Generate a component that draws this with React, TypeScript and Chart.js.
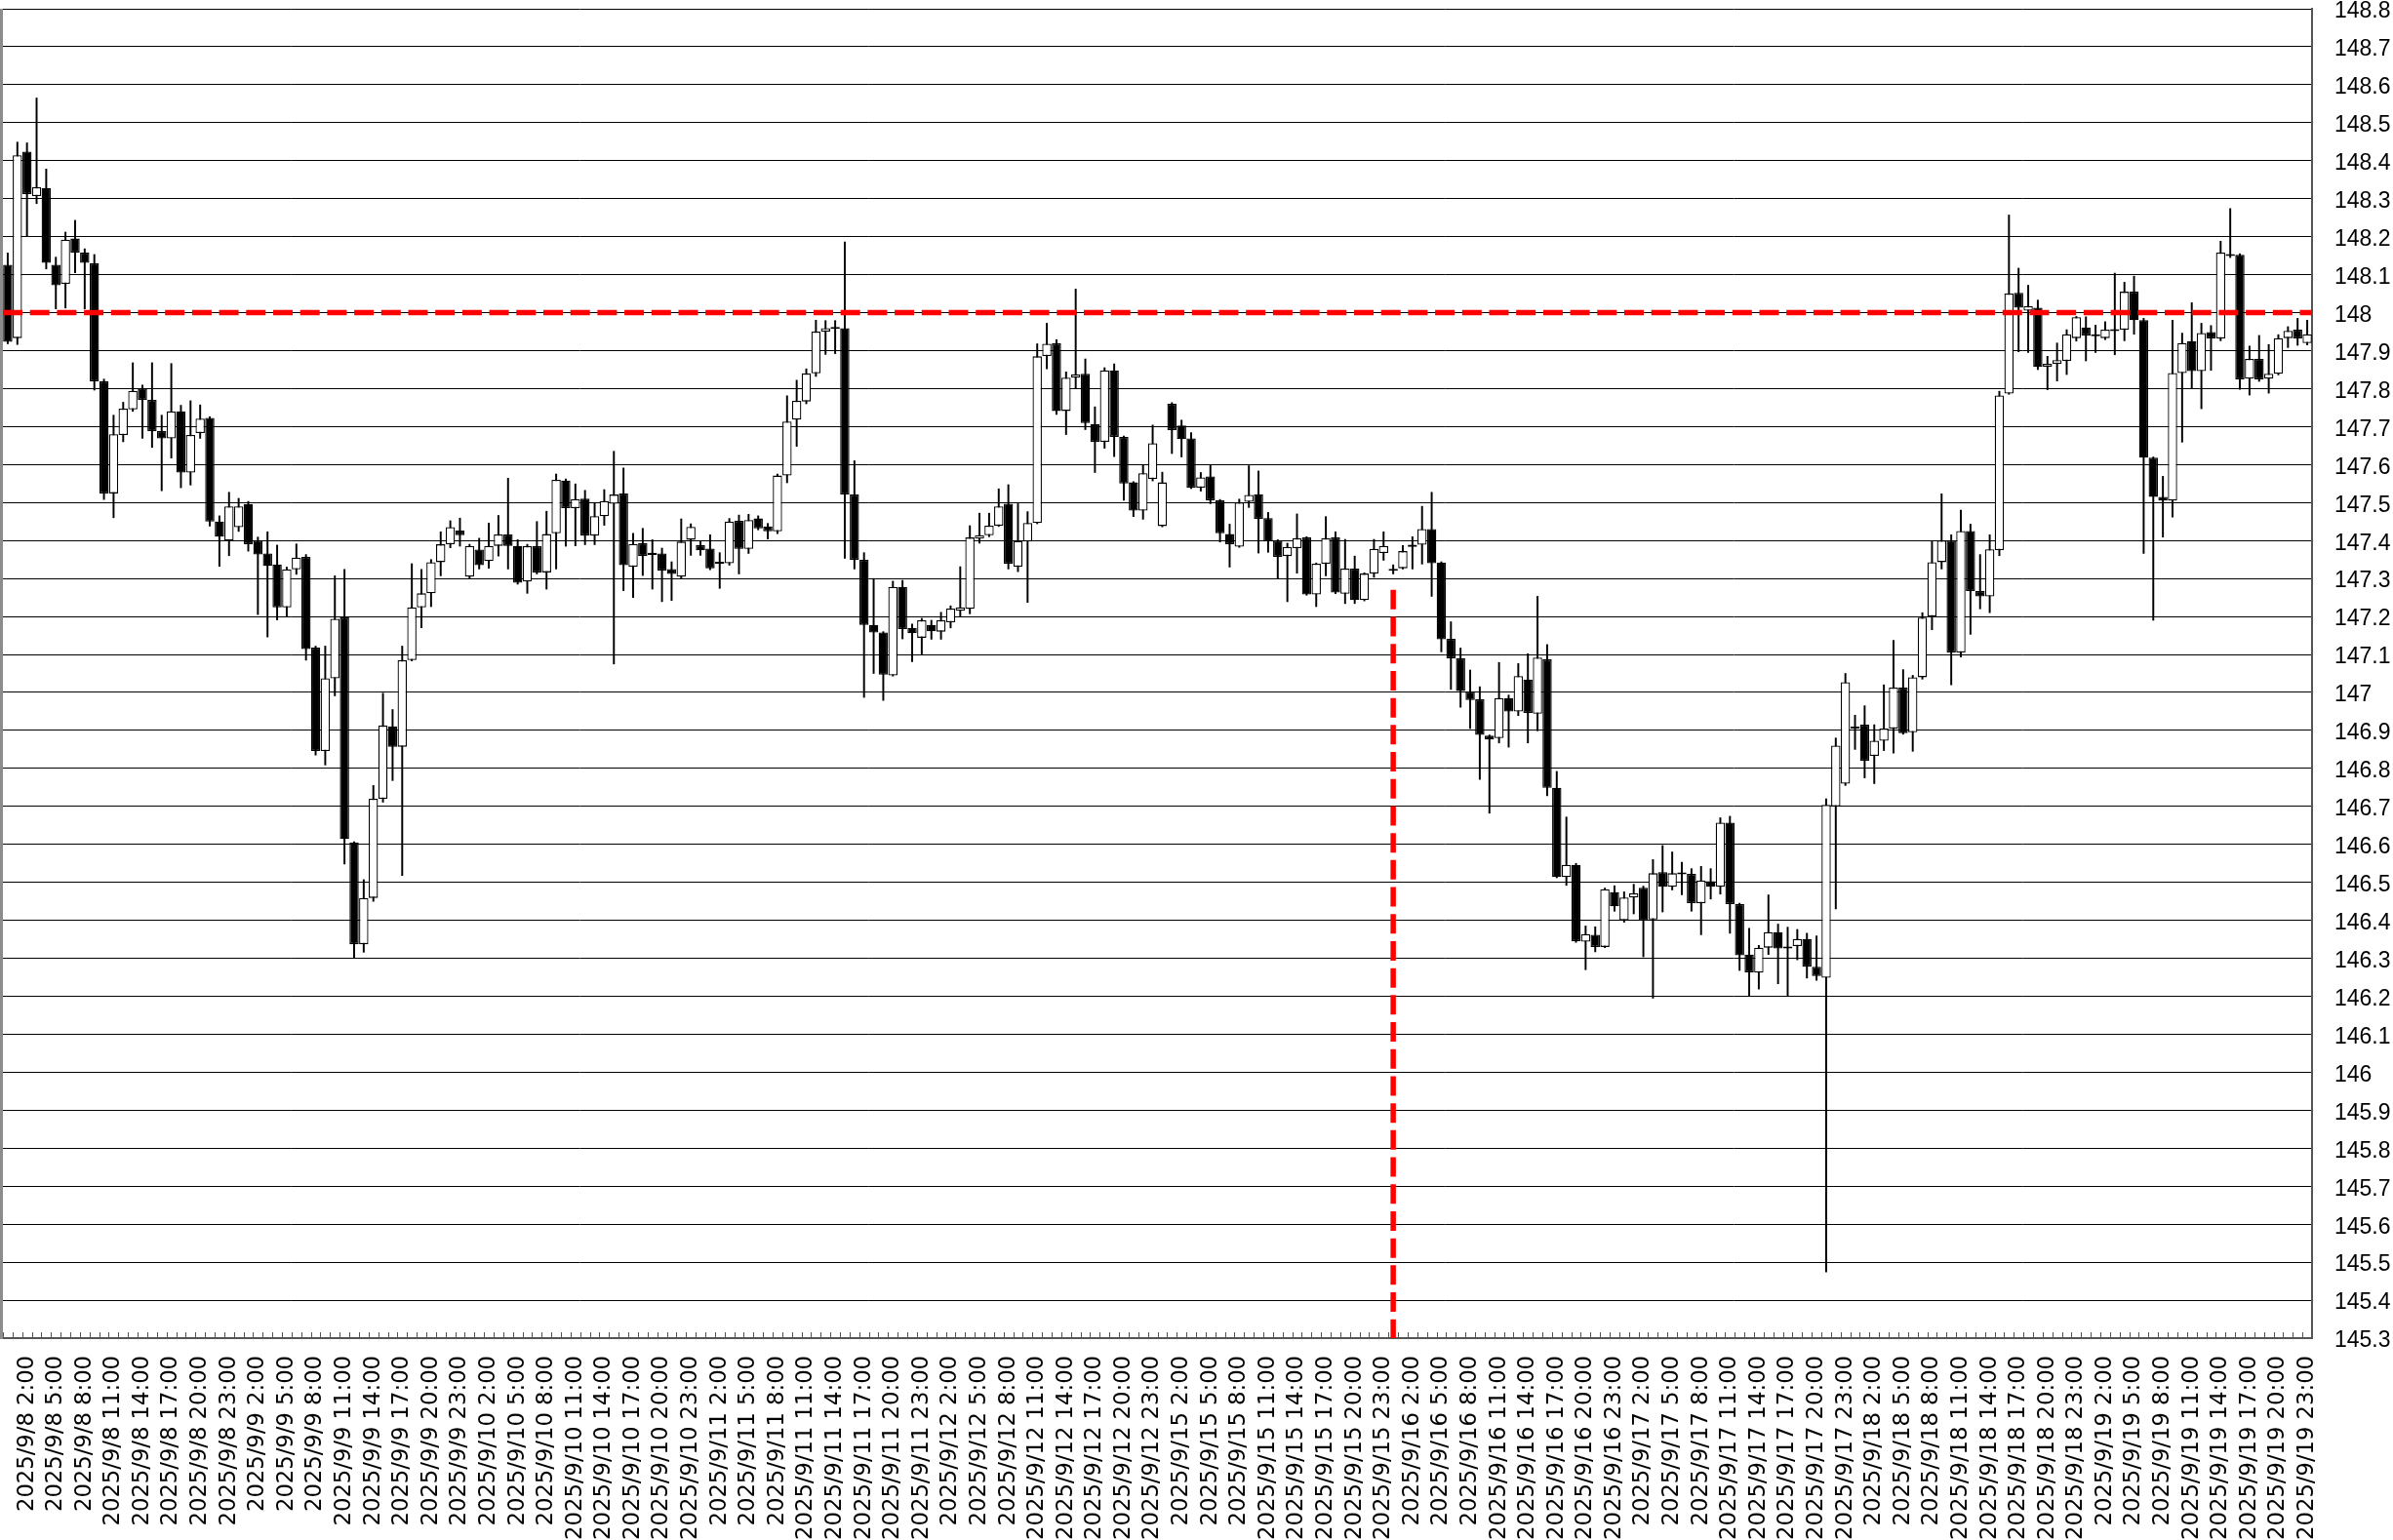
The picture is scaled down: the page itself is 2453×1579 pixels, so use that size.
import React, { useEffect, useRef } from 'react';
import { Chart, registerables } from 'chart.js';

Chart.register(...registerables);

// ---- categories (hourly candles, weekend removed) ----
const DAYS = ['9/8', '9/9', '9/10', '9/11', '9/12', '9/15', '9/16', '9/17', '9/18', '9/19'];
const HOURS = [0, 1, 2, 3, 4, 5, 6, 7, 8, 9, 10, 11, 12, 13, 14, 15, 16, 17, 18, 19, 20, 21, 22, 23];
const LABEL_HOURS = [2, 5, 8, 11, 14, 17, 20, 23];
const CATEGORIES = DAYS.flatMap((d) => HOURS.map((h) => `2025/${d} ${h}:00`));
const LABEL_INDEXES = CATEGORIES.map((_, i) => i).filter((i) => LABEL_HOURS.includes(HOURS[i % 24]));

// ---- price axis ticks ----
const Y_TICKS = [
  145.3, 145.4, 145.5, 145.6, 145.7, 145.8, 145.9, 146.0, 146.1, 146.2, 146.3, 146.4,
  146.5, 146.6, 146.7, 146.8, 146.9, 147.0, 147.1, 147.2, 147.3, 147.4, 147.5, 147.6,
  147.7, 147.8, 147.9, 148.0, 148.1, 148.2, 148.3, 148.4, 148.5, 148.6, 148.7, 148.8,
];
const Y_MIN = 145.3;
const Y_MAX = 148.8;

// ---- reference lines ----
const RESISTANCE = 148.0;
const MARKER_INDEX = 144;
const MARKER_TOP = 147.27;

// ---- OHLC ----
const OPEN = [
  148.126, 147.933, 148.424, 148.307, 148.328, 148.126, 148.076, 148.195, 148.158, 148.130, 147.819, 147.524, 147.678, 147.745, 147.800, 147.770, 147.688, 147.669, 147.740, 147.579, 147.683, 147.723, 147.450, 147.400,
  147.435, 147.496, 147.400, 147.366, 147.337, 147.224, 147.324, 147.357, 147.118, 146.846, 147.037, 147.198, 146.605, 146.337, 146.459, 146.720, 146.911, 146.857, 147.085, 147.224, 147.261, 147.343, 147.390, 147.426,
  147.305, 147.376, 147.346, 147.386, 147.416, 147.386, 147.292, 147.385, 147.316, 147.419, 147.558, 147.485, 147.510, 147.413, 147.464, 147.497, 147.524, 147.331, 147.393, 147.362, 147.366, 147.325, 147.305, 147.402,
  147.388, 147.379, 147.341, 147.340, 147.452, 147.378, 147.458, 147.437, 147.424, 147.571, 147.718, 147.766, 147.840, 147.950, 147.957, 147.959, 147.521, 147.349, 147.178, 147.158, 147.045, 147.278, 147.170, 147.144,
  147.178, 147.160, 147.185, 147.215, 147.220, 147.405, 147.414, 147.439, 147.497, 147.331, 147.397, 147.446, 147.886, 147.919, 147.741, 147.829, 147.839, 147.707, 147.660, 147.848, 147.673, 147.553, 147.479, 147.562,
  147.438, 147.760, 147.703, 147.669, 147.539, 147.569, 147.506, 147.417, 147.384, 147.502, 147.522, 147.459, 147.400, 147.359, 147.380, 147.408, 147.258, 147.339, 147.408, 147.260, 147.326, 147.243, 147.313, 147.367,
  147.321, 147.327, 147.383, 147.389, 147.430, 147.342, 147.141, 147.090, 147.002, 146.982, 146.886, 146.880, 146.985, 146.950, 147.034, 146.944, 147.087, 146.749, 146.514, 146.546, 146.344, 146.362, 146.330, 146.474,
  146.400, 146.460, 146.486, 146.402, 146.527, 146.488, 146.524, 146.522, 146.445, 146.503, 146.488, 146.657, 146.443, 146.310, 146.262, 146.328, 146.369, 146.330, 146.332, 146.351, 146.278, 146.249, 146.700, 146.760,
  146.905, 146.915, 146.833, 146.873, 146.905, 147.013, 146.895, 147.040, 147.200, 147.343, 147.400, 147.105, 147.425, 147.267, 147.253, 147.375, 147.787, 148.052, 148.005, 148.013, 147.857, 147.865, 147.873, 147.933,
  147.961, 147.942, 147.933, 147.951, 147.955, 148.055, 147.980, 147.618, 147.515, 147.505, 147.841, 147.925, 147.846, 147.949, 147.932, 148.149, 148.152, 147.826, 147.878, 147.826, 147.839, 147.933, 147.955, 147.920,
];
const HIGH = [
  148.157, 148.449, 148.447, 148.565, 148.378, 148.146, 148.212, 148.243, 148.168, 148.153, 147.825, 147.730, 147.764, 147.868, 147.809, 147.868, 147.730, 147.866, 147.756, 147.768, 147.757, 147.726, 147.465, 147.527,
  147.511, 147.503, 147.409, 147.423, 147.388, 147.330, 147.391, 147.363, 147.122, 147.122, 147.307, 147.324, 146.607, 146.507, 146.755, 146.998, 146.955, 147.122, 147.339, 147.324, 147.350, 147.423, 147.452, 147.459,
  147.390, 147.406, 147.446, 147.466, 147.564, 147.402, 147.390, 147.450, 147.477, 147.575, 147.562, 147.549, 147.532, 147.500, 147.534, 147.635, 147.591, 147.419, 147.432, 147.402, 147.380, 147.344, 147.457, 147.444,
  147.398, 147.415, 147.368, 147.458, 147.467, 147.469, 147.465, 147.445, 147.575, 147.781, 147.822, 147.852, 147.980, 147.979, 147.979, 148.186, 147.610, 147.368, 147.300, 147.160, 147.293, 147.295, 147.180, 147.195,
  147.190, 147.211, 147.228, 147.331, 147.439, 147.472, 147.472, 147.536, 147.547, 147.497, 147.476, 147.918, 147.972, 147.929, 147.844, 148.062, 147.878, 147.752, 147.855, 147.865, 147.675, 147.555, 147.600, 147.704,
  147.580, 147.763, 147.717, 147.684, 147.579, 147.600, 147.508, 147.443, 147.509, 147.597, 147.583, 147.474, 147.402, 147.393, 147.470, 147.410, 147.341, 147.463, 147.423, 147.403, 147.359, 147.315, 147.403, 147.423,
  147.336, 147.387, 147.410, 147.490, 147.527, 147.344, 147.186, 147.117, 147.059, 147.015, 146.888, 147.079, 146.993, 147.076, 147.102, 147.253, 147.126, 146.792, 146.672, 146.550, 146.385, 146.383, 146.485, 146.491,
  146.475, 146.495, 146.490, 146.560, 146.597, 146.580, 146.553, 146.536, 146.542, 146.536, 146.670, 146.674, 146.445, 146.379, 146.334, 146.467, 146.390, 146.382, 146.376, 146.366, 146.359, 146.720, 146.880, 147.050,
  146.940, 146.965, 146.915, 147.020, 147.137, 147.060, 147.045, 147.210, 147.397, 147.523, 147.415, 147.480, 147.443, 147.363, 147.415, 147.793, 148.257, 148.117, 148.072, 148.033, 147.885, 147.920, 147.955, 147.990,
  147.989, 147.967, 147.976, 148.104, 148.080, 148.096, 147.985, 147.620, 147.569, 147.980, 147.946, 148.026, 147.972, 147.966, 148.188, 148.274, 148.155, 147.912, 147.940, 147.916, 147.942, 147.963, 147.985, 147.980,
];
const LOW = [
  147.918, 147.916, 148.202, 148.287, 148.115, 148.010, 148.012, 148.105, 148.010, 147.796, 147.508, 147.460, 147.660, 147.740, 147.669, 147.645, 147.531, 147.617, 147.539, 147.546, 147.669, 147.438, 147.332, 147.360,
  147.424, 147.372, 147.205, 147.146, 147.191, 147.200, 147.311, 147.085, 146.835, 146.809, 146.991, 146.548, 146.300, 146.316, 146.450, 146.711, 146.768, 146.518, 147.083, 147.170, 147.226, 147.307, 147.381, 147.385,
  147.300, 147.325, 147.327, 147.359, 147.325, 147.285, 147.261, 147.312, 147.272, 147.325, 147.385, 147.386, 147.389, 147.389, 147.440, 147.075, 147.268, 147.250, 147.308, 147.272, 147.239, 147.242, 147.300, 147.361,
  147.361, 147.323, 147.274, 147.335, 147.312, 147.366, 147.428, 147.404, 147.418, 147.552, 147.648, 147.760, 147.832, 147.890, 147.892, 147.353, 147.325, 146.987, 147.050, 146.979, 147.043, 147.141, 147.081, 147.101,
  147.140, 147.140, 147.170, 147.200, 147.207, 147.393, 147.410, 147.437, 147.325, 147.318, 147.237, 147.444, 147.852, 147.732, 147.679, 147.801, 147.692, 147.579, 147.643, 147.621, 147.506, 147.463, 147.456, 147.557,
  147.436, 147.629, 147.620, 147.537, 147.530, 147.497, 147.396, 147.330, 147.382, 147.487, 147.367, 147.369, 147.301, 147.239, 147.314, 147.256, 147.226, 147.307, 147.260, 147.234, 147.234, 147.241, 147.303, 147.348,
  147.312, 147.325, 147.325, 147.338, 147.253, 147.107, 147.008, 146.961, 146.905, 146.771, 146.682, 146.867, 146.856, 146.939, 146.867, 146.899, 146.728, 146.512, 146.492, 146.342, 146.270, 146.317, 146.328, 146.424,
  146.395, 146.417, 146.304, 146.195, 146.422, 146.480, 146.467, 146.424, 146.362, 146.456, 146.469, 146.366, 146.268, 146.200, 146.219, 146.310, 146.233, 146.200, 146.296, 146.248, 146.242, 145.474, 146.430, 146.755,
  146.850, 146.775, 146.760, 146.847, 146.840, 146.890, 146.845, 147.035, 147.165, 147.325, 147.020, 147.093, 147.153, 147.220, 147.210, 147.360, 147.785, 147.897, 147.895, 147.850, 147.797, 147.820, 147.837, 147.925,
  147.873, 147.895, 147.929, 147.889, 147.926, 147.943, 147.366, 147.190, 147.409, 147.462, 147.659, 147.800, 147.747, 147.848, 147.926, 148.145, 147.798, 147.783, 147.819, 147.788, 147.836, 147.908, 147.914, 147.915,
];
const CLOSE = [
  147.923, 148.414, 148.312, 148.330, 148.131, 148.072, 148.192, 148.158, 148.131, 147.819, 147.524, 147.680, 147.747, 147.794, 147.770, 147.688, 147.669, 147.740, 147.579, 147.678, 147.721, 147.450, 147.410, 147.490,
  147.490, 147.390, 147.363, 147.333, 147.224, 147.324, 147.355, 147.114, 146.846, 147.037, 147.194, 146.614, 146.337, 146.459, 146.720, 146.913, 146.857, 147.085, 147.224, 147.261, 147.343, 147.390, 147.435, 147.414,
  147.386, 147.335, 147.386, 147.416, 147.386, 147.289, 147.385, 147.316, 147.417, 147.560, 147.485, 147.509, 147.413, 147.464, 147.504, 147.521, 147.335, 147.391, 147.359, 147.368, 147.321, 147.312, 147.397, 147.436,
  147.374, 147.327, 147.339, 147.450, 147.378, 147.454, 147.432, 147.424, 147.571, 147.713, 147.768, 147.840, 147.950, 147.959, 147.959, 147.521, 147.349, 147.178, 147.158, 147.047, 147.278, 147.167, 147.156, 147.190,
  147.161, 147.190, 147.221, 147.224, 147.408, 147.414, 147.439, 147.490, 147.339, 147.399, 147.446, 147.885, 147.918, 147.741, 147.829, 147.838, 147.709, 147.660, 147.848, 147.673, 147.550, 147.479, 147.577, 147.656,
  147.553, 147.691, 147.667, 147.539, 147.566, 147.506, 147.419, 147.390, 147.500, 147.520, 147.457, 147.397, 147.357, 147.383, 147.406, 147.258, 147.339, 147.406, 147.263, 147.326, 147.243, 147.313, 147.378, 147.386,
  147.320, 147.372, 147.389, 147.430, 147.340, 147.140, 147.090, 147.004, 146.980, 146.888, 146.876, 146.985, 146.950, 147.043, 146.946, 147.092, 146.749, 146.514, 146.546, 146.345, 146.364, 146.330, 146.482, 146.437,
  146.460, 146.471, 146.400, 146.524, 146.488, 146.524, 146.521, 146.445, 146.505, 146.488, 146.657, 146.443, 146.308, 146.263, 146.328, 146.369, 146.326, 146.326, 146.351, 146.278, 146.253, 146.704, 146.860, 147.027,
  146.910, 146.820, 146.873, 146.905, 147.013, 146.893, 147.040, 147.197, 147.343, 147.400, 147.105, 147.425, 147.267, 147.253, 147.377, 147.782, 148.050, 148.013, 148.017, 147.857, 147.865, 147.875, 147.943, 147.988,
  147.940, 147.938, 147.955, 147.955, 148.055, 147.980, 147.618, 147.515, 147.505, 147.841, 147.920, 147.846, 147.946, 147.932, 148.158, 148.153, 147.824, 147.878, 147.824, 147.839, 147.933, 147.952, 147.932, 147.943,
];

const WIDTH = 2453;
const HEIGHT = 1579;

const framePlugin = {
  id: 'frame',
  afterDraw(chart: any) {
    const { ctx, chartArea: a, scales } = chart;
    const xs = scales.x;
    ctx.save();
    ctx.fillStyle = '#8c8c8c';
    ctx.fillRect(0, a.top, 3, a.bottom - a.top + 1);
    ctx.strokeStyle = '#555555';
    ctx.lineWidth = 1;
    ctx.beginPath();
    for (let i = 0; i <= CATEGORIES.length; i++) {
      const px = Math.round(xs.getPixelForValue(i - 0.5)) + 0.5;
      ctx.moveTo(px, a.bottom - 6);
      ctx.lineTo(px, a.bottom);
    }
    ctx.stroke();
    ctx.restore();
  },
};

export default function App() {
  const canvasRef = useRef<HTMLCanvasElement | null>(null);

  useEffect(() => {
    const canvas = canvasRef.current;
    if (!canvas) return;

    const wicks = CATEGORIES.map((_, i) => ({ x: i, y: [LOW[i], HIGH[i]] }));
    const bodies = CATEGORIES.map((_, i) => ({
      x: i,
      y: [Math.min(OPEN[i], CLOSE[i]), Math.max(OPEN[i], CLOSE[i])],
    }));
    const bodyColors = CATEGORIES.map((_, i) => (CLOSE[i] >= OPEN[i] ? '#ffffff' : '#000000'));
    const last = CATEGORIES.length - 1;

    const chart = new Chart(canvas, {
      type: 'bar',
      data: {
        datasets: [
          {
            type: 'bar',
            label: 'wick',
            data: wicks as any,
            backgroundColor: '#000000',
            borderWidth: 0,
            barThickness: 1.3,
            grouped: false,
            order: 3,
          } as any,
          {
            type: 'bar',
            label: 'body',
            data: bodies as any,
            backgroundColor: bodyColors,
            borderColor: '#000000',
            borderWidth: 1.3,
            borderSkipped: false,
            minBarLength: 2,
            barPercentage: 0.96,
            categoryPercentage: 1,
            grouped: false,
            order: 2,
          } as any,
          {
            type: 'line',
            label: 'level',
            data: [
              { x: -0.5, y: RESISTANCE },
              { x: last + 0.5, y: RESISTANCE },
            ],
            borderColor: '#ff0000',
            borderWidth: 5.5,
            borderDash: [20, 7.7],
            borderCapStyle: 'butt',
            pointRadius: 0,
            pointHoverRadius: 0,
            fill: false,
            tension: 0,
            order: 1,
          } as any,
          {
            type: 'line',
            label: 'marker',
            data: [
              { x: MARKER_INDEX, y: MARKER_TOP },
              { x: MARKER_INDEX, y: Y_MIN },
            ],
            borderColor: '#ff0000',
            borderWidth: 5.5,
            borderDash: [20, 7.7],
            borderCapStyle: 'butt',
            pointRadius: 0,
            pointHoverRadius: 0,
            fill: false,
            tension: 0,
            order: 1,
          } as any,
        ],
      },
      options: {
        responsive: false,
        animation: false,
        devicePixelRatio: 1,
        events: [],
        layout: { padding: { left: 3, top: 9, right: 0, bottom: 0 } },
        plugins: {
          legend: { display: false },
          tooltip: { enabled: false },
          title: { display: false },
        },
        scales: {
          x: {
            type: 'linear',
            min: -0.5,
            max: last + 0.5,
            offset: false,
            grid: { display: false, drawTicks: false },
            border: { display: true, color: '#555555', width: 2 },
            ticks: {
              autoSkip: false,
              minRotation: 90,
              maxRotation: 90,
              padding: 18,
              color: '#000000',
              font: { family: "'DejaVu Sans', sans-serif", size: 22.7 },
              callback: (v: any) => (CATEGORIES[v as number] ?? ''),
            },
            afterBuildTicks: (s: any) => {
              s.ticks = LABEL_INDEXES.map((v) => ({ value: v }));
            },
            afterFit: (s: any) => {
              s.height = HEIGHT - 1372;
              s.paddingLeft = 0;
              s.paddingRight = 0;
            },
          } as any,
          y: {
            type: 'linear',
            position: 'right',
            min: Y_MIN,
            max: Y_MAX,
            grid: { color: '#000000', lineWidth: 1, drawTicks: false },
            border: { display: true, color: '#555555', width: 2 },
            ticks: {
              padding: 23,
              labelOffset: 3,
              color: '#000000',
              font: { family: "'Liberation Sans', Arial, sans-serif", size: 23 },
              callback: (v: any) => String(Number(Number(v).toFixed(1))),
            },
            afterBuildTicks: (s: any) => {
              s.ticks = Y_TICKS.map((v) => ({ value: v }));
            },
            afterFit: (s: any) => {
              s.width = 83;
              s.paddingTop = 0;
              s.paddingBottom = 0;
            },
          } as any,
        },
      },
      plugins: [framePlugin as any],
    });

    return () => chart.destroy();
  }, []);

  return (
    <div
      style={{
        position: 'absolute',
        left: 0,
        top: 0,
        width: WIDTH,
        height: HEIGHT,
        background: '#ffffff',
        overflow: 'hidden',
      }}
    >
      <canvas ref={canvasRef} width={WIDTH} height={HEIGHT} style={{ display: 'block' }} />
    </div>
  );
}
